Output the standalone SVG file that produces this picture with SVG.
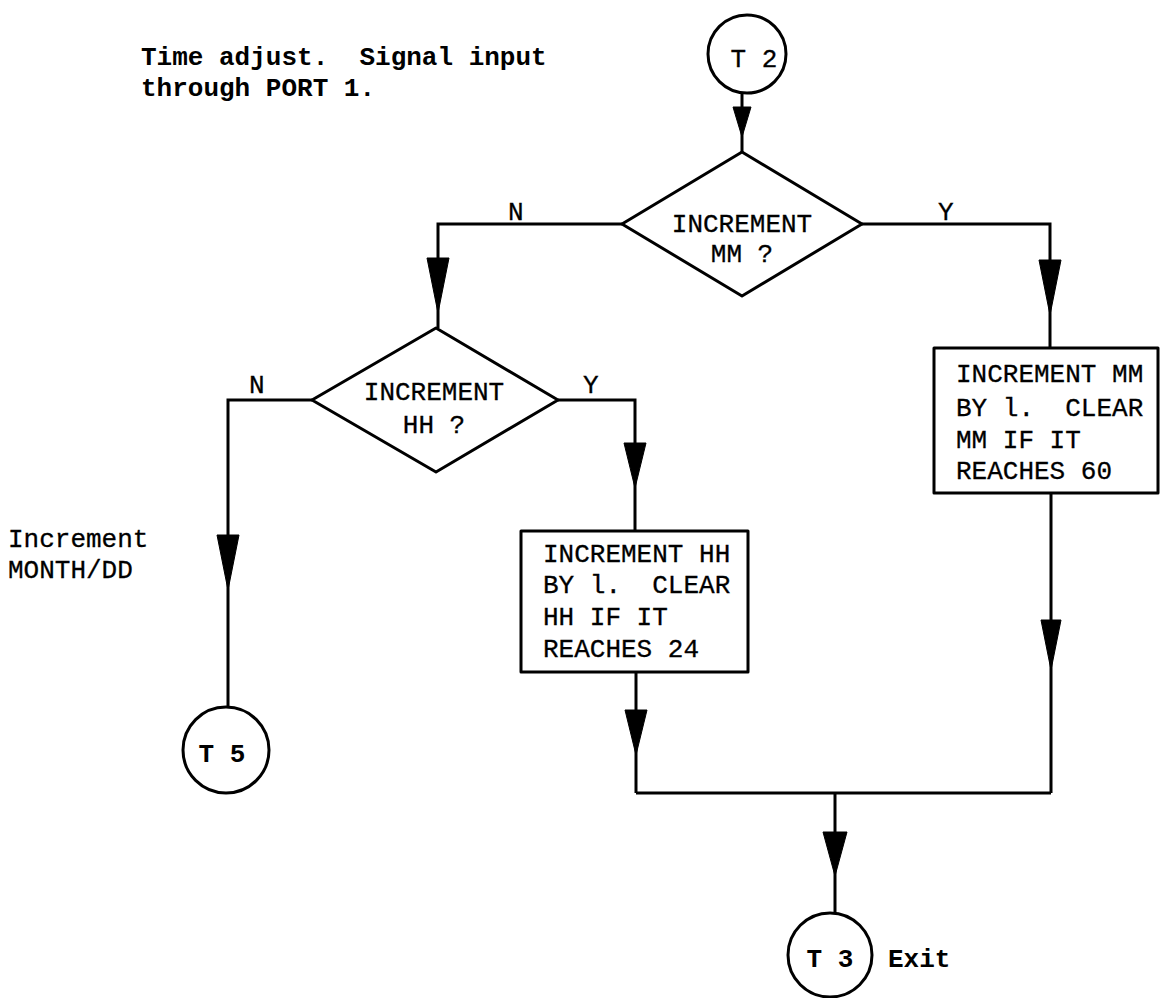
<svg xmlns="http://www.w3.org/2000/svg" width="1160" height="998" viewBox="0 0 1160 998">
<style>
.t{font-family:"Liberation Mono","DejaVu Sans Mono",monospace;font-size:26px;fill:#000;stroke:#000;stroke-width:0.3;}
.b{font-weight:bold;stroke-width:0;}
.s{fill:none;stroke:#000;stroke-width:3;stroke-linejoin:round;}
.ln{fill:none;stroke:#000;stroke-width:3;}
.ah{fill:#000;stroke:#000;stroke-width:1;stroke-linejoin:round;}
</style>
<rect width="1160" height="998" fill="#fff"/>
<g id="note">
<text class="t b" x="141" y="65" xml:space="preserve">Time adjust.  Signal input</text>
<text class="t b" x="141" y="96">through PORT 1.</text>
</g>
<g id="note2">
<text class="t" x="8" y="547">Increment</text>
<text class="t" x="8" y="578">MONTH/DD</text>
</g>
<g id="connectors">
<path class="ln" d="M742,93 V152"/>
<path class="ln" d="M622,224 H438 V328"/>
<path class="ln" d="M862,224 H1050 V348"/>
<path class="ln" d="M312,400 H228 V707"/>
<path class="ln" d="M558,400 H635 V531"/>
<path class="ln" d="M636,672 V793"/>
<path class="ln" d="M1051,493 V793"/>
<path class="ln" d="M636,793 H1051"/>
<path class="ln" d="M835,793 V913"/>
<polygon class="ah" points="733,107 751,107 742,137"/>
<polygon class="ah" points="427,258 449,258 438,313"/>
<polygon class="ah" points="1039,260 1061,260 1050,315"/>
<polygon class="ah" points="217,535 239,535 228,590"/>
<polygon class="ah" points="624,443 646,443 635,488"/>
<polygon class="ah" points="625,710 647,710 636,755"/>
<polygon class="ah" points="1041,620 1061,620 1051,670"/>
<polygon class="ah" points="823,832 847,832 835,876"/>
<text class="t" x="508" y="220">N</text>
<text class="t" x="938" y="220">Y</text>
<text class="t" x="249" y="393">N</text>
<text class="t" x="583" y="393">Y</text>
</g>
<g id="T2">
<circle class="s" cx="747" cy="54" r="39"/>
<text class="t" x="754" y="67" text-anchor="middle">T 2</text>
</g>
<g id="D1">
<polygon class="s" points="742,152 862,224 742,296 622,224"/>
<text class="t" x="742" y="232" text-anchor="middle">INCREMENT</text>
<text class="t" x="742" y="262" text-anchor="middle">MM ?</text>
</g>
<g id="D2">
<polygon class="s" points="436,328 558,400 436,472 312,400"/>
<text class="t" x="434" y="400" text-anchor="middle">INCREMENT</text>
<text class="t" x="434" y="433" text-anchor="middle">HH ?</text>
</g>
<g id="BoxMM">
<rect class="s" x="934" y="348" width="224" height="145"/>
<text class="t" x="956" y="382">INCREMENT MM</text>
<text class="t" x="956" y="416" xml:space="preserve">BY l.  CLEAR</text>
<text class="t" x="956" y="448">MM IF IT</text>
<text class="t" x="956" y="479">REACHES 60</text>
</g>
<g id="BoxHH">
<rect class="s" x="521" y="531" width="227" height="141"/>
<text class="t" x="543" y="562">INCREMENT HH</text>
<text class="t" x="543" y="593" xml:space="preserve">BY l.  CLEAR</text>
<text class="t" x="543" y="625">HH IF IT</text>
<text class="t" x="543" y="657">REACHES 24</text>
</g>
<g id="T5">
<circle class="s" cx="226" cy="750" r="43"/>
<text class="t b" x="222" y="762" text-anchor="middle">T 5</text>
</g>
<g id="T3">
<circle class="s" cx="830" cy="955" r="42"/>
<text class="t b" x="830" y="967" text-anchor="middle">T 3</text>
<text class="t b" x="888" y="967">Exit</text>
</g>
</svg>
